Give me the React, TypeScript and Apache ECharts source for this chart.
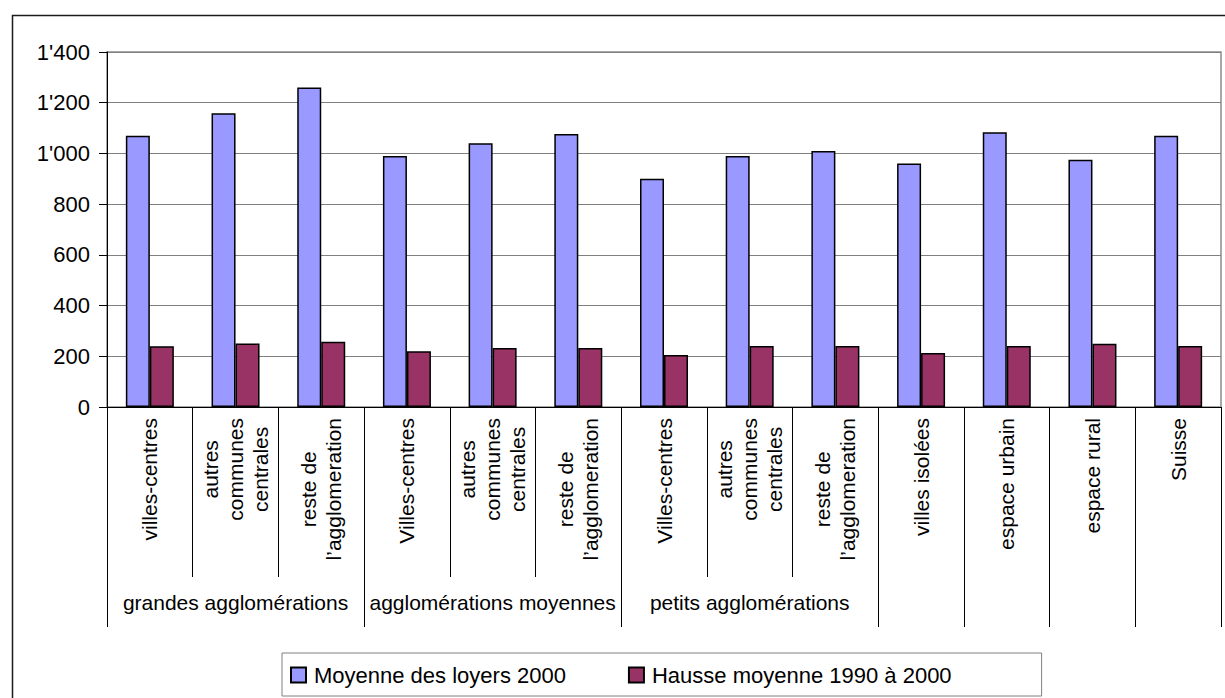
import React, { useEffect, useRef } from "react";
import * as echarts from "echarts";

const categories = [
  "villes-centres",
  "autres\ncommunes\ncentrales",
  "reste de\nl’agglomeration",
  "Villes-centres",
  "autres\ncommunes\ncentrales",
  "reste de\nl’agglomeration",
  "Villes-centres",
  "autres\ncommunes\ncentrales",
  "reste de\nl’agglomeration",
  "villes isolées",
  "espace urbain",
  "espace rural",
  "Suisse",
];
const groupLabels = [
  "",
  "grandes agglomérations",
  "",
  "",
  "agglomérations moyennes",
  "",
  "",
  "petits agglomérations",
  "",
  "",
  "",
  "",
  "",
];
const groupBoundaries = [0, 3, 6, 9, 10, 11, 12];
const seriesNames = ["Moyenne des loyers 2000", "Hausse moyenne 1990 à 2000"];
const loyers2000 = [1070, 1158, 1260, 990, 1040, 1077, 900, 990, 1010, 960, 1084, 975, 1070];
const hausse1990_2000 = [240, 250, 257, 220, 233, 233, 205, 241, 241, 213, 241, 249, 241];

const FONT = 'Arial, "Liberation Sans", sans-serif';

function fmtThousands(v: number): string {
  const s = String(Math.round(v));
  return s.replace(/\B(?=(\d{3})+(?!\d))/g, "'");
}

export default function App() {
  const ref = useRef<HTMLDivElement>(null);
  useEffect(() => {
    if (!ref.current) return;
    const chart = echarts.init(ref.current, undefined, { renderer: "svg" });
    chart.setOption({
      animation: false,
      backgroundColor: "#ffffff",
      textStyle: { fontFamily: FONT, color: "#000" },
      graphic: [
        {
          type: "rect",
          left: 10,
          top: 13,
          shape: { width: 1400, height: 900 },
          style: { fill: "none", stroke: "#1a1a1a", lineWidth: 1.5 },
          z: -10,
          silent: true,
        },
      ],
      grid: {
        left: 107,
        top: 52,
        right: 4,
        bottom: 291,
        show: true,
        borderColor: "#8c8c8c",
        borderWidth: 1.5,
        backgroundColor: "transparent",
      },
      legend: {
        left: 282,
        top: 653,
        data: seriesNames,
        icon: "rect",
        itemWidth: 15,
        itemHeight: 15,
        itemGap: 62,
        padding: [11, 90, 10, 8],
        borderColor: "#808080",
        borderWidth: 1,
        textStyle: { fontSize: 22, color: "#000", fontFamily: FONT, padding: [0, 0, 0, 3] },
      },
      xAxis: [
        {
          type: "category",
          data: categories,
          position: "bottom",
          axisLine: { show: true, lineStyle: { color: "#000", width: 1 } },
          axisTick: { show: true, interval: 0, length: 170, lineStyle: { color: "#000", width: 1 } },
          axisLabel: {
            interval: 0,
            rotate: 90,
            margin: 11,
            color: "#000",
            fontFamily: FONT,
            fontSize: 21,
            lineHeight: 25,
            formatter: (v: string) =>
              v
                .split("\n")
                .map((s) => `{c|${s}}`)
                .join("\n"),
            rich: {
              c: { align: "center", fontSize: 21, lineHeight: 25, color: "#000", fontFamily: FONT },
            },
          },
          splitLine: { show: false },
        },
        {
          type: "category",
          data: categories,
          position: "bottom",
          offset: 170,
          axisLine: { show: false },
          axisTick: {
            show: true,
            interval: (i: number) => groupBoundaries.includes(i),
            length: 50,
            lineStyle: { color: "#000", width: 1 },
          },
          axisLabel: {
            interval: 0,
            margin: 15,
            color: "#000",
            fontFamily: FONT,
            fontSize: 21,
            formatter: (_v: string, i: number) => groupLabels[i],
          },
          splitLine: { show: false },
        },
      ],
      yAxis: {
        type: "value",
        min: 0,
        max: 1400,
        interval: 200,
        axisLine: { show: true, lineStyle: { color: "#000", width: 1 } },
        axisTick: { show: true, length: 8, lineStyle: { color: "#000" } },
        axisLabel: {
          margin: 17,
          color: "#000",
          fontFamily: FONT,
          fontSize: 22,
          formatter: (v: number) => fmtThousands(v),
        },
        splitLine: { show: true, lineStyle: { color: "#808080", width: 1.2 } },
      },
      series: [
        {
          name: seriesNames[0],
          type: "bar",
          xAxisIndex: 0,
          data: loyers2000,
          barWidth: 24,
          barGap: "0%",
          itemStyle: { color: "#9999ff", borderColor: "#000", borderWidth: 1.5 },
        },
        {
          name: seriesNames[1],
          type: "bar",
          xAxisIndex: 0,
          data: hausse1990_2000,
          barWidth: 24,
          barGap: "0%",
          itemStyle: { color: "#993366", borderColor: "#000", borderWidth: 1.5 },
        },
      ],
    });
    return () => chart.dispose();
  }, []);
  return (
    <div
      ref={ref}
      style={{ position: "fixed", left: 0, top: 0, width: 1225, height: 698 }}
    />
  );
}
